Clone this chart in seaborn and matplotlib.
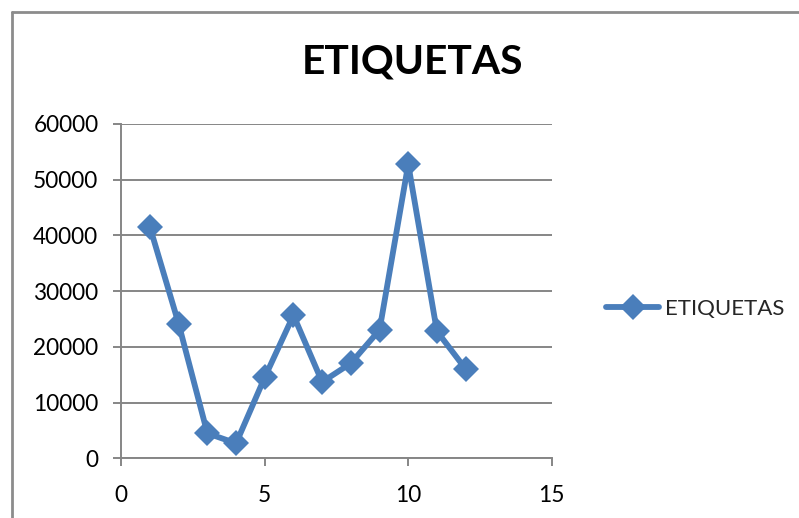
import matplotlib
matplotlib.use("Agg")
import matplotlib.pyplot as plt
from matplotlib.lines import Line2D
import seaborn as sns
import pandas as pd

# Series values
x_values = [1, 2, 3, 4, 5, 6, 7, 8, 9, 10, 11, 12]
y_values = [41470, 24110, 4490, 2690, 14540, 25670, 13700, 17060, 23030, 52780, 22800, 16030]
series_name = "ETIQUETAS"
title_text = "ETIQUETAS"
x_ticks = [0, 5, 10, 15]
y_ticks = [0, 10000, 20000, 30000, 40000, 50000, 60000]

sns.set_theme(style="white")
plt.rcParams["font.family"] = ["Lato", "DejaVu Sans"]

df = pd.DataFrame({"x": x_values, "y": y_values})

W, H = 799, 518
fig = plt.figure(figsize=(W / 100, H / 100), dpi=100)
ax = fig.add_axes([121.3 / W, 1 - 458.3 / H, (551.7 - 121.3) / W, (458.3 - 124) / H])

line_color = "#4A7EBB"
grid_color = "#868686"
lw = 4.2
ms = 13

sns.lineplot(data=df, x="x", y="y", ax=ax, color=line_color, linewidth=lw,
             marker="D", markersize=ms, markeredgewidth=0, legend=False, zorder=3)

ax.set_xlim(0, 15)
ax.set_ylim(0, 60000)
ax.set_xticks(x_ticks)
ax.set_yticks(y_ticks)
ax.set_xticklabels([str(t) for t in x_ticks])
ax.set_yticklabels([str(t) for t in y_ticks])
ax.set_xlabel("")
ax.set_ylabel("")

ax.grid(axis="y", color=grid_color, linewidth=1.4)
ax.set_axisbelow(True)
for side in ["top", "right"]:
    ax.spines[side].set_visible(False)
for side in ["left", "bottom"]:
    ax.spines[side].set_color(grid_color)
    ax.spines[side].set_linewidth(1.4)

ax.tick_params(axis="both", which="major", direction="out", length=5.5, width=1.4,
               color=grid_color, labelsize=16.3, labelcolor="black")
ax.tick_params(axis="y", pad=11)
ax.tick_params(axis="x", pad=14)
ax.tick_params(left=True, bottom=True)

fig.text(412 / W, 1 - 62 / H, title_text, ha="center", va="center",
         fontsize=29.3, fontweight="bold", color="black")

handle = Line2D([0], [0], color=line_color, linewidth=lw, marker="D",
                markersize=ms, markeredgewidth=0)
fig.legend([handle], [series_name], loc="center left",
           bbox_to_anchor=(606 / W, 1 - 309 / H), frameon=False,
           fontsize=16, handlelength=2.4, handletextpad=0.25, borderaxespad=0,
           borderpad=0)

# Outer chart frame (top and left edges)
fig.add_artist(Line2D([11.5 / W, 11.5 / W], [0, 1 - 11.5 / H], color="#8c8c8c",
                      linewidth=2, transform=fig.transFigure))
fig.add_artist(Line2D([11.5 / W, 1], [1 - 11.5 / H, 1 - 11.5 / H], color="#8c8c8c",
                      linewidth=2, transform=fig.transFigure))

fig.savefig("out.png", dpi=100)
